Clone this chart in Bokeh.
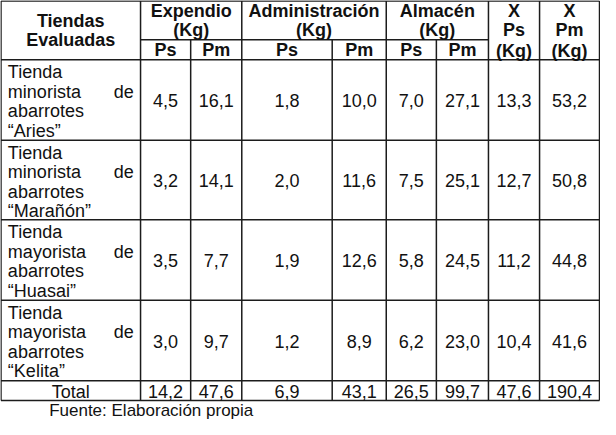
from bokeh.plotting import figure
from bokeh.models import Range1d, ColumnDataSource
from bokeh.embed import file_html
from bokeh.resources import INLINE
from bokeh.core.properties import value

# ---------------- data ----------------
store_type = ["minorista", "minorista", "mayorista", "mayorista"]
store_name = ["“Aries”", "“Marañón”", "“Huasai”", "“Kelita”"]
exp_ps = [4.5, 3.2, 3.5, 3.0]
exp_pm = [16.1, 14.1, 7.7, 9.7]
adm_ps = [1.8, 2.0, 1.9, 1.2]
adm_pm = [10.0, 11.6, 12.6, 8.9]
alm_ps = [7.0, 7.5, 5.8, 6.2]
alm_pm = [27.1, 25.1, 24.5, 23.0]
x_ps = [13.3, 12.7, 11.2, 10.4]
x_pm = [53.2, 50.8, 44.8, 41.6]
totals = [14.2, 47.6, 6.9, 43.1, 26.5, 99.7, 47.6, 190.4]
group_labels = ["Expendio", "Administración", "Almacén"]
sub_labels = ["Ps", "Pm"]
first_header = ["Tiendas", "Evaluadas"]
total_label = "Total"
footer = "Fuente: Elaboración propia"

# ---------------- layout (pixel-like coords, y downward) ----------------
col_edges = [1, 143, 194, 246, 338, 393, 444, 497, 549, 610]
top, hmid, hbot = 1, 42, 63
row_edges = [63, 148, 232, 317, 402, 423]
FONT = "Liberation Sans"
FS = "18px"
LC = "#1c1c1c"
LW = 1.5

p = figure(width=600, height=419, output_backend="svg", toolbar_location=None,
           x_range=Range1d(0.5, 611), y_range=Range1d(start=443, end=0.5),
           min_border=0, background_fill_color="white", border_fill_color="white")
p.axis.visible = False
p.grid.visible = False
p.outline_line_color = None

# grid lines
x0s, y0s, x1s, y1s = [], [], [], []
for y in [top, hbot] + row_edges[1:]:
    x0s.append(col_edges[0]); x1s.append(col_edges[-1]); y0s.append(y); y1s.append(y)
x0s.append(col_edges[1]); x1s.append(col_edges[7]); y0s.append(hmid); y1s.append(hmid)
for i, x in enumerate(col_edges):
    start = hmid if i in (2, 4, 6) else top
    x0s.append(x); x1s.append(x); y0s.append(start); y1s.append(row_edges[-1])
p.segment(x0=x0s, y0=y0s, x1=x1s, y1=y1s, line_color=LC, line_width=LW)

def txt(xs, ys, texts, align="center", bold=False, baseline="middle", size=FS):
    src = ColumnDataSource(dict(x=xs, y=ys, t=texts))
    p.text(x="x", y="y", text="t", source=src, text_font=value(FONT),
           text_font_size=size, text_align=align, text_baseline=baseline,
           text_color="#111111", text_font_style="bold" if bold else "normal")

def cx(i):
    return (col_edges[i] + col_edges[i + 1]) / 2

# header
txt([cx(0)] * 2, [22, 42], first_header, bold=True)
gx = [(col_edges[1] + col_edges[3]) / 2, (col_edges[3] + col_edges[5]) / 2,
      (col_edges[5] + col_edges[7]) / 2]
txt(gx, [12] * 3, group_labels, bold=True)
txt(gx, [32] * 3, ["(Kg)"] * 3, bold=True)
txt([cx(i) for i in range(1, 7)], [53] * 6, sub_labels * 3, bold=True)
for j, s in enumerate(sub_labels):
    txt([cx(7 + j)] * 3, [12, 32, 54], ["X", s, "(Kg)"], bold=True)

# data rows
cols = [exp_ps, exp_pm, adm_ps, adm_pm, alm_ps, alm_pm, x_ps, x_pm]
fmt = lambda v: f"{v:.1f}".replace(".", ",")
for r in range(len(store_name)):
    ytop = row_edges[r]
    ly = [ytop + 13.5 + 20.5 * k for k in range(4)]
    txt([8] * 4, ly, ["Tienda", store_type[r], "abarrotes", store_name[r]], align="left")
    txt([136], [ly[1]], ["de"], align="right")
    yc = (row_edges[r] + row_edges[r + 1]) / 2 + 1
    txt([cx(c + 1) for c in range(8)], [yc] * 8, [fmt(col[r]) for col in cols])

# total row
yt = (row_edges[-2] + row_edges[-1]) / 2 + 1
txt([cx(0)], [yt], [total_label])
txt([cx(c + 1) for c in range(8)], [yt] * 8, [fmt(v) for v in totals])

# footer
txt([50], [433.5], [footer], align="left", baseline="middle", size="17px")

open("out.html", "w").write(file_html(p, INLINE))
